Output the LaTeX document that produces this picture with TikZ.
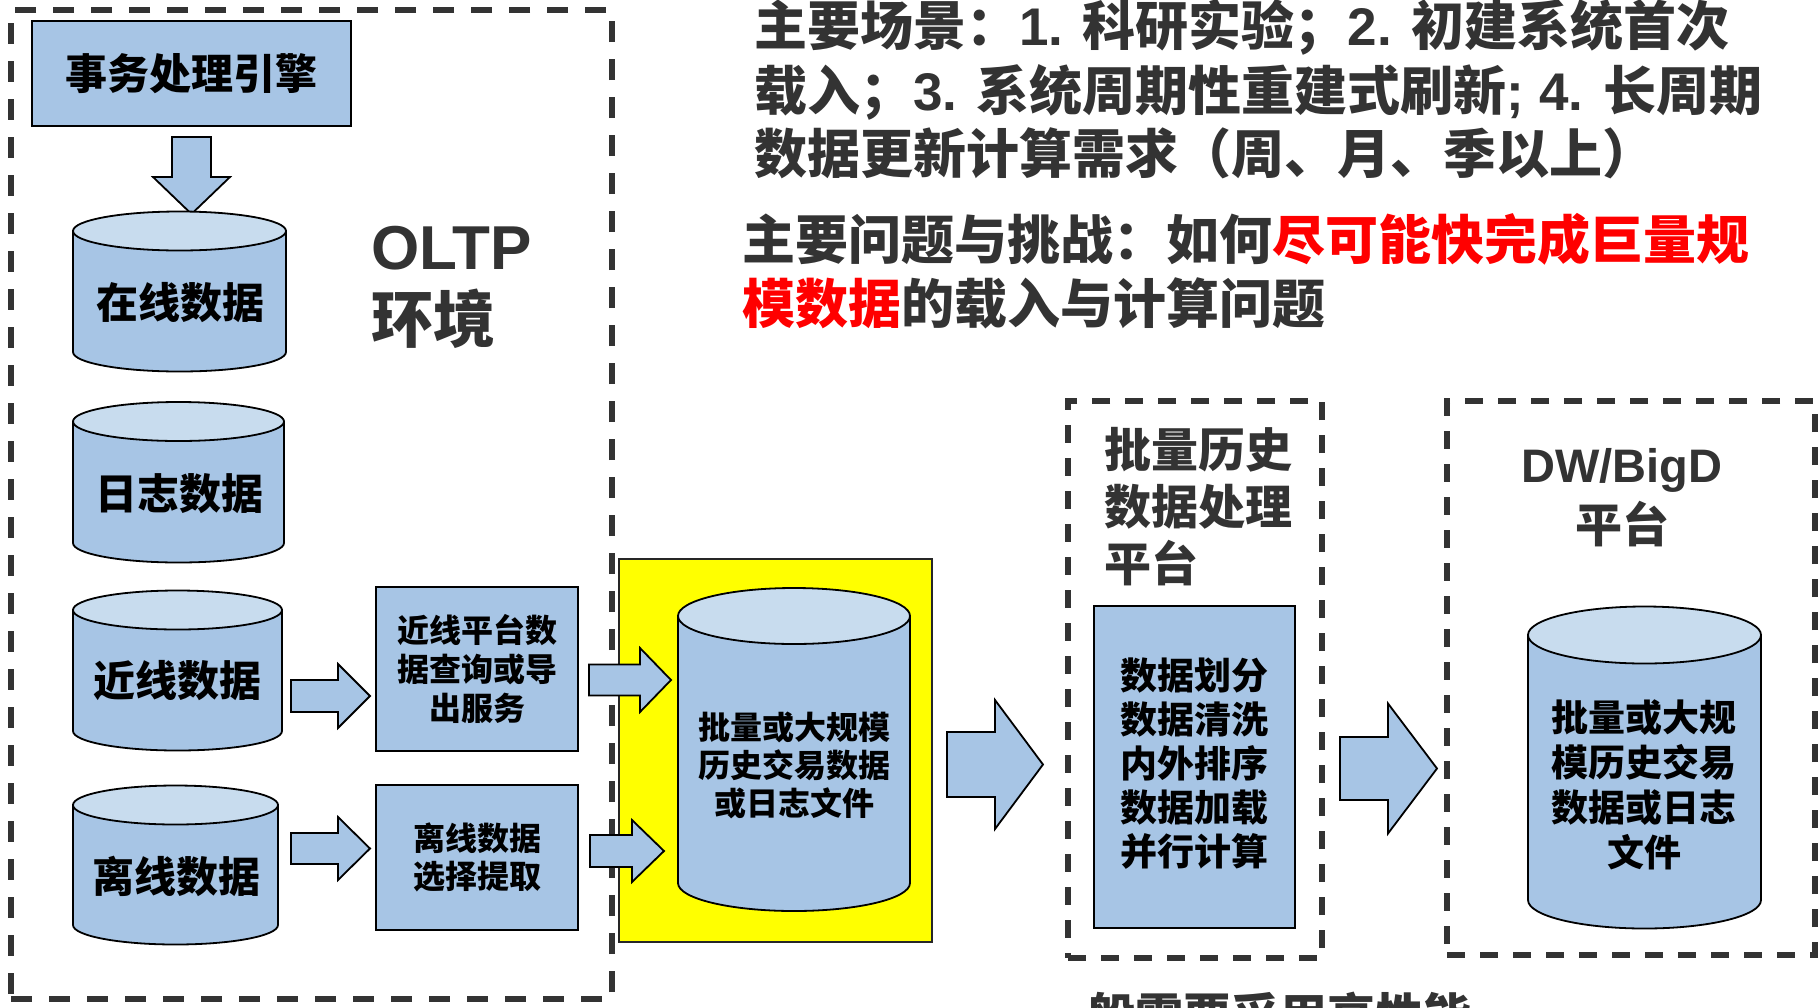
\documentclass[tikz,border=0pt]{standalone}
\usepackage{fontspec}
\setmainfont{Noto Sans CJK SC}[UprightFont=* Black]
\newfontfamily\latb{Liberation Sans}[UprightFont=* Bold]
\definecolor{boxblue}{HTML}{A7C5E5}
\definecolor{topblue}{HTML}{C8DCEE}
\definecolor{dgray}{HTML}{333333}
\definecolor{yel}{HTML}{FFFF00}
\definecolor{redt}{HTML}{FF0000}
\newcommand\fsz[2]{\fontsize{#1}{#2}\selectfont}
% cylinder: #1 name, #2 cx, #3 rx, #4 top centre y, #5 bottom centre y, #6 ry
\newcommand\dbcyl[6]{%
  \path[cylline,fill=boxblue] (#2-#3,#4) -- (#2-#3,#5)
     arc[start angle=180,end angle=0,x radius=#3,y radius=#6] -- (#2+#3,#4) -- cycle;
  \path[cylline,fill=topblue] (#2,#4) ellipse[x radius=#3,y radius=#6];
  \coordinate (#1) at (#2,{(#4+#5)/2});
}
% right block arrow: #1 tail x, #2 centre y, #3 head start x, #4 tip x, #5 half shaft, #6 half head
\newcommand\rarr[6]{%
  \draw[blk] (#1,#2-#5) -- (#3,#2-#5) -- (#3,#2-#6) -- (#4,#2) -- (#3,#2+#6)
     -- (#3,#2+#5) -- (#1,#2+#5) -- cycle;
}
\begin{document}
\begin{tikzpicture}[x=1pt,y=-1pt,
  every node/.style={inner sep=0pt,outer sep=0pt},
  bluebox/.style={draw=black,line width=1.8pt,fill=boxblue},
  cylline/.style={draw=black,line width=1.8pt},
  blk/.style={draw=black,line width=1.8pt,fill=boxblue,line join=miter},
  yellowbox/.style={draw=black!85,line width=1.5pt,fill=yel},
  dashbox/.style={draw=dgray,line width=5.5pt,dash pattern=on 21pt off 17pt},
  dashboxb/.style={draw=dgray,line width=5.5pt,dash pattern=on 18pt off 15pt},
  cyltext/.style={font=\fsz{42}{50},text=black},
  hdr/.style={font=\fsz{53}{64},text=dgray,anchor=base west}]
\useasboundingbox (0,0) rectangle (1819,1007);
\fill[white] (0,0) rectangle (1819,1007);

% frames
\node[dashbox,minimum width=601pt,minimum height=989pt] (oltpframe) at (311.5,504.5) {};
\node[dashboxb,minimum width=254pt,minimum height=557pt] (batchframe) at (1195,679.5) {};
\node[dashboxb,minimum width=368pt,minimum height=554pt] (dwframe) at (1631,678) {};
\node[yellowbox,minimum width=313pt,minimum height=383pt] (ybox) at (775.5,750.5) {};

% top texts
\node[hdr] (s1) at (754,45) {主要场景：{\latb 1. }科研实验；{\latb 2. }初建系统首次};
\node[hdr] (s2) at (754,110) {载入；{\latb 3. }系统周期性重建式刷新{\latb ; 4. }长周期};
\node[hdr] (s3) at (754,173) {数据更新计算需求（周、月、季以上）};
\node[hdr] (p1) at (742,259) {主要问题与挑战：如何\textcolor{redt}{尽可能快完成巨量规}};
\node[hdr] (p2) at (742,323) {\textcolor{redt}{模数据}的载入与计算问题};

% OLTP environment
\node[bluebox,minimum width=319pt,minimum height=105pt,font=\fsz{42}{50}] (engine) at (191.5,73.5) {事务处理引擎};
\draw[blk] (172,137) -- (211,137) -- (211,177) -- (230,177) -- (191.5,214) -- (153,177) -- (172,177) -- cycle;

\dbcyl{cylonline}{179.5}{106.5}{231}{352}{19.5}
\dbcyl{cyllog}{178.5}{105.5}{421.5}{543}{19.5}
\dbcyl{cylnear}{177.5}{104.5}{610}{731}{19.5}
\dbcyl{cyloff}{175.5}{102.5}{805}{925}{19.5}
\node[cyltext] (tonline) at (180,303) {在线数据};
\node[cyltext] (tlog) at (179.5,494) {日志数据};
\node[cyltext] (tnear) at (177.5,681) {近线数据};
\node[cyltext] (toff) at (176,876) {离线数据};

\node[font=\fsz{62}{73},text=dgray,anchor=base west] (oltp) at (371,269) {\latb OLTP};
\node[font=\fsz{62}{73},text=dgray,anchor=base west] (env) at (371,342) {环境};

\node[bluebox,minimum width=202pt,minimum height=164pt,align=center,font=\fsz{32}{39}] (nearsvc) at (477,669) {近线平台数\\据查询或导\\出服务};
\node[bluebox,minimum width=202pt,minimum height=145pt,align=center,font=\fsz{32}{38}] (offsel) at (477,857.5) {离线数据\\选择提取};

% batch data
\dbcyl{cylbatch}{794}{116}{616}{883}{28}
\node[font=\fsz{32}{38},align=center] (batchtext) at (794,765) {批量或大规模\\历史交易数据\\或日志文件};

% processing platform
\node[font=\fsz{47}{57},align=left,text=dgray,anchor=west] (batchtitle) at (1104,507) {批量历史\\数据处理\\平台};
\node[bluebox,minimum width=201pt,minimum height=322pt] (procbox) at (1194.5,767) {};
\node[font=\fsz{37}{44},align=center] (proctext) at (1194,763.5) {数据划分\\数据清洗\\内外排序\\数据加载\\并行计算};

% DW platform
\node[font=\fsz{47}{60},align=center,text=dgray] (dwtitle) at (1622,498) {{\latb DW/BigD}\\平台};
\dbcyl{cyldw}{1644.5}{116.5}{635}{900}{28.5}
\node[font=\fsz{37}{45},align=center] (dwtext) at (1644,785) {批量或大规\\模历史交易\\数据或日志\\文件};

% block arrows
\rarr{291}{696}{338}{370}{16}{32}
\rarr{291}{848.5}{338}{370}{15.5}{31.5}
\rarr{589}{680}{640}{671}{15.5}{32}
\rarr{590}{851}{632}{664}{16}{31}
\rarr{947}{764.5}{995}{1043}{32.5}{64.5}
\rarr{1340}{768.5}{1388}{1437}{31.5}{65}

% bottom text (cut off)
\node[font=\fsz{48}{56},text=dgray,anchor=base west] (bottomtxt) at (1087,1033) {般需要采用高性能};
\end{tikzpicture}
\end{document}
